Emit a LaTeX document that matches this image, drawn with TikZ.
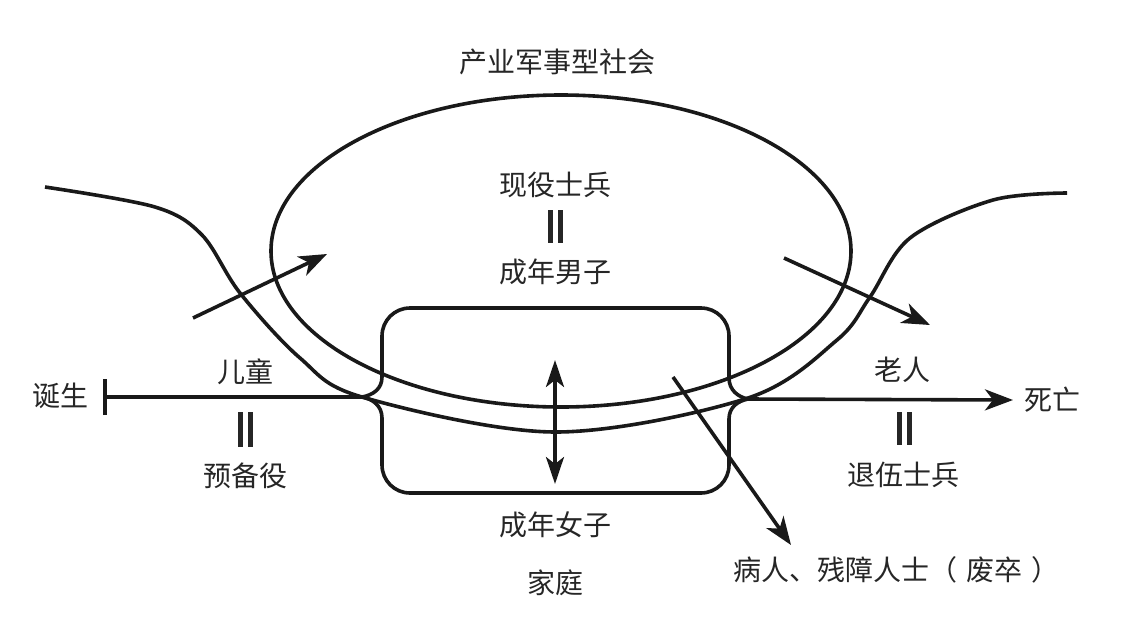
\documentclass[tikz,border=0pt]{standalone}
\usepackage{fontspec}
\setmainfont{Noto Sans CJK SC}
\usetikzlibrary{arrows.meta}
\tikzset{
  x=1pt, y=-1pt,
  thick line/.style={line width=3.6pt, draw=black!90},
  arr/.style={thick line, -{Stealth[length=28pt, width=21pt, inset=8pt]}},
  dblarr/.style={thick line, {Stealth[length=27pt, width=18pt, inset=7pt]}-{Stealth[length=27pt, width=18pt, inset=7pt]}},
  bararr/.style={thick line, {Bar[width=36pt, line width=3.6pt]}-},
  lbl/.style={font=\fontsize{28}{30}\selectfont, text=black!85, inner sep=0pt},
  eqbar/.style={line width=5pt, draw=black!85},
}
\begin{document}
\begin{tikzpicture}
\useasboundingbox (0,0) rectangle (1128,633);
% society ellipse
\draw[thick line] (561,251) ellipse [x radius=290, y radius=156];
% outer boundary curve
\draw[thick line] plot[smooth, tension=0.55] coordinates {(45,187) (155,207) (202,235) (240,293) (300,358) (362,397) (555,432) (748,398) (837,340) (870,297) (910,238) (993,200) (1067,193)};
% family box
\coordinate (jl) at (362,397);
\coordinate (jr) at (748,399);
\draw[thick line] (382,377) -- (382,336) .. controls (382,320.5) and (394.5,308) .. (410,308)
  -- (701,308) .. controls (716.5,308) and (729,320.5) .. (729,336)
  -- (729,378) .. controls (729,390) and (738,397) .. (jr)
  .. controls (738,401) and (729,407) .. (729,419)
  -- (729,465) .. controls (729,480.5) and (716.5,493) .. (701,493)
  -- (410,493) .. controls (394.5,493) and (382,480.5) .. (382,465)
  -- (382,418) .. controls (382,406) and (373,399) .. (jl)
  .. controls (373,395) and (382,389) .. (382,377) -- cycle;
% coordinates for arrows
\coordinate (birth) at (103,397);
\coordinate (deathtip) at (1013,400);
\coordinate (inS) at (193,318);
\coordinate (inE) at (327,254);
\coordinate (outS) at (784,258);
\coordinate (outE) at (930,325);
\coordinate (famT) at (555,360);
\coordinate (famB) at (555,484);
\coordinate (sickS) at (673,377);
\coordinate (sickE) at (791,545);
% connectors
\draw[bararr] (birth) -- (jl);
\draw[arr] (jr) -- (deathtip);
\draw[arr] (inS) -- (inE);
\draw[arr] (outS) -- (outE);
\draw[dblarr] (famT) -- (famB);
\draw[arr] (sickS) -- (sickE);
% equality bars
\foreach \cx/\ya/\yb in {555/210/243, 245/412/447, 904/412/445}{
  \draw[eqbar] (\cx-5,\ya) -- (\cx-5,\yb);
  \draw[eqbar] (\cx+5,\ya) -- (\cx+5,\yb);
}
% labels
\node[lbl] (society) at (557,62) {产业军事型社会};
\node[lbl] (active) at (555,185) {现役士兵};
\node[lbl] (men) at (555,272) {成年男子};
\node[lbl] (child) at (245,372) {儿童};
\node[lbl] (reserve) at (245,476) {预备役};
\node[lbl] (birthlbl) at (60,396) {诞生};
\node[lbl] (old) at (902,370) {老人};
\node[lbl] (death) at (1052,400) {死亡};
\node[lbl] (veteran) at (903,475) {退伍士兵};
\node[lbl] (women) at (555,525) {成年女子};
\node[lbl] (family) at (555,583) {家庭};
\node[lbl, anchor=west] (sick) at (733,570) {病人、残障人士（\hspace{9pt}废卒\hspace{9pt}）};
\end{tikzpicture}
\end{document}
